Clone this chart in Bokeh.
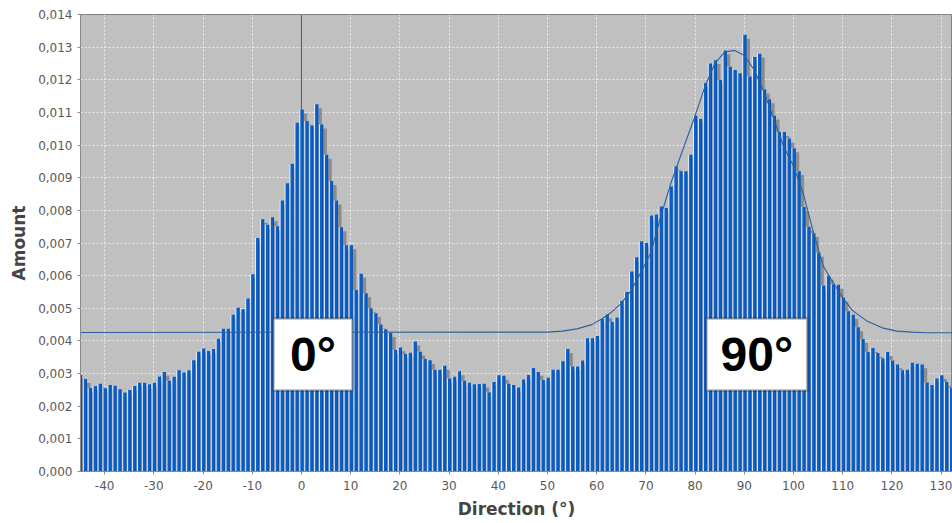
import numpy as np
from bokeh.plotting import figure
from bokeh.models import (Range1d, FixedTicker, CustomJSTickFormatter, BoxAnnotation,
                          Label, ColumnDataSource)
from bokeh.embed import file_html
from bokeh.resources import INLINE

# ---------------- data ----------------
directions = list(range(-45, 133))
amounts = [
    0.00296, 0.00283, 0.00256, 0.00262, 0.00269, 0.00255, 0.00265, 0.00263, 0.00252, 0.00242,  # -45..-36
    0.00250, 0.00262, 0.00272, 0.00272, 0.00267, 0.00272, 0.00291, 0.00305, 0.00278, 0.00290,  # -35..-26
    0.00310, 0.00303, 0.00310, 0.00341, 0.00367, 0.00377, 0.00369, 0.00375, 0.00407, 0.00437,  # -25..-16
    0.00437, 0.00480, 0.00502, 0.00497, 0.00530, 0.00604, 0.00715, 0.00773, 0.00756, 0.00779,  # -15..-6
    0.00751, 0.00830, 0.00883, 0.00943, 0.01068, 0.01109, 0.01074, 0.01060, 0.01125, 0.01063,  # -5..4
    0.00970, 0.00890, 0.00830, 0.00748, 0.00693, 0.00693, 0.00556, 0.00606, 0.00546, 0.00500,  # 5..14
    0.00485, 0.00450, 0.00436, 0.00424, 0.00372, 0.00380, 0.00360, 0.00364, 0.00398, 0.00367,  # 15..24
    0.00345, 0.00341, 0.00312, 0.00312, 0.00324, 0.00285, 0.00290, 0.00307, 0.00278, 0.00272,  # 25..34
    0.00267, 0.00268, 0.00269, 0.00243, 0.00274, 0.00295, 0.00293, 0.00269, 0.00265, 0.00257,  # 35..44
    0.00282, 0.00296, 0.00317, 0.00305, 0.00280, 0.00287, 0.00312, 0.00312, 0.00338, 0.00375,  # 45..54
    0.00322, 0.00322, 0.00340, 0.00408, 0.00408, 0.00415, 0.00467, 0.00481, 0.00458, 0.00472,  # 55..64
    0.00523, 0.00550, 0.00613, 0.00656, 0.00705, 0.00700, 0.00784, 0.00787, 0.00812, 0.00807,  # 65..74
    0.00873, 0.00935, 0.00920, 0.00920, 0.00970, 0.01090, 0.01080, 0.01190, 0.01250, 0.01260,  # 75..84
    0.01200, 0.01290, 0.01240, 0.01230, 0.01220, 0.01338, 0.01210, 0.01270, 0.01280, 0.01170,  # 85..94
    0.01140, 0.01090, 0.01040, 0.01040, 0.01020, 0.00990, 0.00920, 0.00810, 0.00750, 0.00730,  # 95..104
    0.00670, 0.00570, 0.00600, 0.00574, 0.00572, 0.00532, 0.00491, 0.00480, 0.00442, 0.00406,  # 105..114
    0.00366, 0.00378, 0.00363, 0.00346, 0.00366, 0.00340, 0.00328, 0.00310, 0.00312, 0.00333,  # 115..124
    0.00330, 0.00328, 0.00273, 0.00265, 0.00285, 0.00295, 0.00274, 0.00256,                    # 125..132
]

fit_x = [-45, 50, 53, 56, 59, 61, 63, 65, 67, 69, 71, 73, 75, 77, 80, 82, 84, 86, 88, 90,
         92, 94, 96, 98, 100, 102, 104, 106, 108, 110, 112, 115, 118, 121, 124, 127, 132.5]
fit_y = [0.00426, 0.00427, 0.00430, 0.00437, 0.00450, 0.00467, 0.00488, 0.00515, 0.00555,
         0.00610, 0.00670, 0.00780, 0.00880, 0.00965, 0.01090, 0.01180, 0.01250, 0.01285,
         0.01290, 0.01275, 0.01230, 0.01162, 0.01080, 0.00995, 0.00935, 0.00850, 0.00735,
         0.00630, 0.00580, 0.00532, 0.00493, 0.00460, 0.00440, 0.00430, 0.00427, 0.00425,
         0.00425]

marker_x = [0]
y_ticks = [i / 1000 for i in range(0, 15)]
x_ticks = list(range(-40, 131, 10))
labels = [("0°", -5.69, 10.37), ("90°", 82.3, 102.8)]

# ---------------- figure ----------------
p = figure(width=952, height=523, output_backend="svg", toolbar_location=None,
           x_range=Range1d(-44.9, 132.3), y_range=Range1d(0, 0.014),
           min_border_left=80, min_border_right=0, min_border_top=14, min_border_bottom=52)
p.background_fill_color = "#c0c0c0"
p.border_fill_color = "white"
p.outline_line_color = "#808080"
p.outline_line_width = 1

p.xgrid.ticker = FixedTicker(ticks=x_ticks)
p.ygrid.ticker = FixedTicker(ticks=y_ticks)
for g in (p.xgrid, p.ygrid):
    g.grid_line_color = "#ececec"
    g.grid_line_dash = "2 2"
    g.grid_line_width = 1

x = np.array(directions, dtype=float)
y = np.array(amounts)

# domain marker at 0
p.segment(x0=marker_x, y0=[0] * len(marker_x), x1=marker_x, y1=[0.014] * len(marker_x),
          line_color="#555555", line_width=1)

src_shadow = ColumnDataSource(dict(x=x + 0.75, top=y - 0.00012))
p.vbar(x="x", top="top", width=0.8, source=src_shadow, fill_color="#8c8c8c",
       line_color=None)
# bar body (light highlight on left)
p.vbar(x=x, top=y, width=0.85, fill_color="#e4ecf7", line_color=None)
p.vbar(x=x + 0.1, top=y, width=0.65, fill_color="#0a5fc8", line_color=None)
p.vbar(x=x + 0.34, top=y, width=0.17, fill_color="#0a4ea6", line_color=None)

p.line(fit_x, fit_y, line_color="#2b5f9f", line_width=1.1)

# axes
p.yaxis.ticker = FixedTicker(ticks=y_ticks)
p.xaxis.ticker = FixedTicker(ticks=x_ticks)
p.yaxis.formatter = CustomJSTickFormatter(code="return tick.toFixed(3).replace('.', ',');")
p.xaxis.formatter = CustomJSTickFormatter(code="return String(Math.round(tick));")
for ax in (p.xaxis[0], p.yaxis[0]):
    ax.axis_line_color = "#8a8a8a"
    ax.major_tick_line_color = "#8a8a8a"
    ax.major_tick_out = 3
    ax.major_tick_in = 0
    ax.minor_tick_line_color = None
    ax.major_label_text_font = "DejaVu Sans"
    ax.major_label_text_font_size = "12px"
    ax.major_label_text_color = "#595959"
    ax.axis_label_text_font = "DejaVu Sans"
    ax.axis_label_text_font_style = "bold"
    ax.axis_label_text_font_size = "17px"
    ax.axis_label_text_color = "#444444"
p.xaxis.axis_label = "Direction (°)"
p.yaxis.axis_label = "Amount"
p.xaxis.major_label_standoff = 6
p.xaxis.axis_label_standoff = 6
p.yaxis.major_label_standoff = 5
p.yaxis.axis_label_standoff = 6

for txt, left, right in labels:
    p.add_layout(BoxAnnotation(left=left, right=right, bottom=0.00248, top=0.004686,
                               fill_color="white", fill_alpha=1.0,
                               line_color="black", line_width=2.5))
    p.add_layout(Label(x=(left + right) / 2, y=0.00358, text=txt,
                       text_align="center", text_baseline="middle",
                       text_font="Liberation Sans", text_font_style="bold",
                       text_font_size="48px", text_color="black"))

open("out.html", "w").write(file_html(p, INLINE))
